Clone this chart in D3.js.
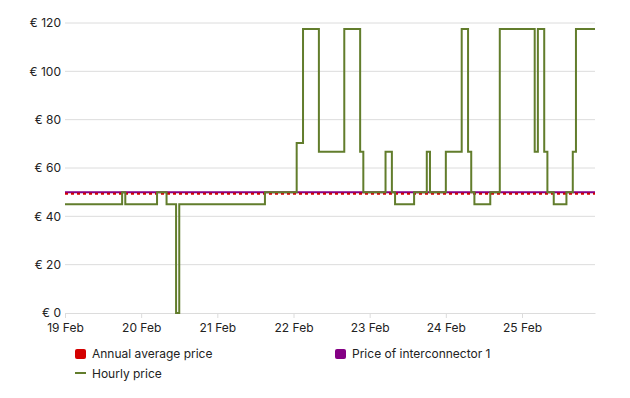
<!DOCTYPE html>
<html>
<head>
<meta charset="utf-8">
<script src="https://cdn.jsdelivr.net/npm/d3@7"></script>
<style>
	body { margin: 0; background: #fff; }
	svg { font-family: Inter, "Noto Sans", sans-serif; }
</style>
</head>
<body>
<svg id="chart" width="630" height="398"></svg>
<script>
// hourly price, stored as the hours (from 19 Feb 00:00) where the price changes
var startDate = new Date(2024, 1, 19, 0, 0);
var changeHours = [0, 18, 19, 29, 32, 35, 36, 63, 73, 75,
	80, 88, 93, 94, 101, 103, 104, 110, 114, 115,
	120, 125, 127, 128, 129, 134, 137, 148, 149, 151,
	152, 154, 158, 160, 161, 167];
var changePrices = [45, 50, 45, 50, 45, 0, 45, 50, 70.3, 117.5,
	66.7, 117.5, 66.7, 50, 66.7, 50, 45, 50, 66.7, 50,
	66.7, 117.5, 66.7, 50, 45, 50, 117.5, 66.7, 117.5, 66.7,
	50, 45, 50, 66.7, 117.5, 117.5];
var annualAverage = 49.3;
var interconnectorPrice = 50;
var yTicks = [0, 20, 40, 60, 80, 100, 120];
var legendItems = ["Annual average price", "Price of interconnector 1", "Hourly price"];

var colors = {
	green: "#627d2c",
	purple: "#840084",
	red: "#d40000",
	grid: "#dcdcdc",
	text: "#222"
};

var hourly = changeHours.map(function(h, i) {
	return { date: d3.timeHour.offset(startDate, h), price: changePrices[i] };
});
var endDate = hourly[hourly.length - 1].date;

var svg = d3.select("#chart");
var x = d3.scaleTime().domain([startDate, endDate]).range([65, 595]);
var y = d3.scaleLinear().domain([0, 120]).range([313, 23]);

// gridlines + y labels
svg.append("g").selectAll("line")
	.data(yTicks.filter(function(d){ return d > 0; }))
	.join("line")
	.attr("x1", x.range()[0]).attr("x2", x.range()[1])
	.attr("y1", function(d){ return y(d); }).attr("y2", function(d){ return y(d); })
	.attr("stroke", colors.grid).attr("stroke-width", 1);

svg.append("g").selectAll("text")
	.data(yTicks)
	.join("text")
	.attr("x", 61)
	.attr("y", function(d){ return y(d); })
	.attr("dy", "0.35em")
	.attr("text-anchor", "end")
	.attr("font-size", 12)
	.attr("fill", colors.text)
	.text(function(d){ return "€ " + d; });

// x axis
var xAxis = d3.axisBottom(x)
	.ticks(d3.timeDay.every(1))
	.tickFormat(d3.timeFormat("%-d %b"))
	.tickSize(5)
	.tickSizeOuter(0);
var gx = svg.append("g")
	.attr("transform", "translate(0," + y(0) + ")")
	.call(xAxis);
gx.select(".domain").attr("stroke", colors.grid);
gx.selectAll(".tick line").attr("stroke", colors.grid);
gx.selectAll(".tick text")
	.attr("font-family", "Inter, 'Noto Sans', sans-serif")
	.attr("font-size", 12)
	.attr("fill", colors.text)
	.attr("dy", "0.9em");

// reference lines
svg.append("line")
	.attr("x1", x.range()[0]).attr("x2", x.range()[1])
	.attr("y1", y(interconnectorPrice)).attr("y2", y(interconnectorPrice))
	.attr("stroke", colors.purple).attr("stroke-width", 2);
svg.append("line")
	.attr("x1", x.range()[0]).attr("x2", x.range()[1])
	.attr("y1", y(annualAverage)).attr("y2", y(annualAverage))
	.attr("stroke", colors.red).attr("stroke-width", 2)
	.attr("stroke-dasharray", "3,3");

// hourly price step line
var line = d3.line()
	.x(function(d){ return x(d.date); })
	.y(function(d){ return y(d.price); })
	.curve(d3.curveStepAfter);
svg.append("path")
	.datum(hourly)
	.attr("d", line)
	.attr("fill", "none")
	.attr("stroke", colors.green)
	.attr("stroke-width", 2);

// legend
var legend = svg.append("g");
var legendPos = [[75, 354], [335, 354], [75, 374]];
var legendColors = [colors.red, colors.purple, colors.green];
legendItems.forEach(function(label, i) {
	var p = legendPos[i];
	if (i < 2) {
		legend.append("rect")
			.attr("x", p[0]).attr("y", p[1] - 5)
			.attr("width", 11).attr("height", 10)
			.attr("rx", 2)
			.attr("fill", legendColors[i]);
	} else {
		legend.append("line")
			.attr("x1", p[0]).attr("x2", p[0] + 11)
			.attr("y1", p[1] - 1).attr("y2", p[1] - 1)
			.attr("stroke", legendColors[i]).attr("stroke-width", 2);
	}
	legend.append("text")
		.attr("x", p[0] + 17)
		.attr("y", p[1])
		.attr("dy", "0.35em")
		.attr("font-size", 12)
		.attr("fill", colors.text)
		.text(label);
});
</script>
</body>
</html>
